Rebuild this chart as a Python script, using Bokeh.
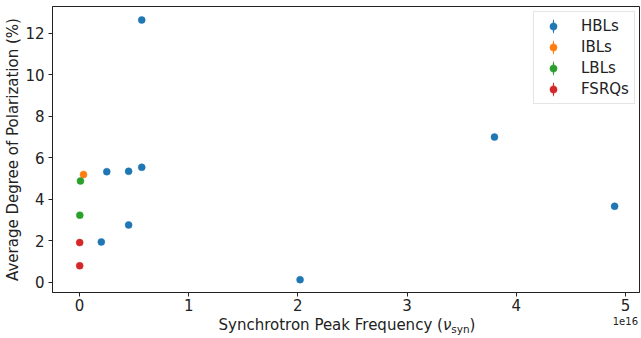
import numpy as np
from bokeh.plotting import figure
from bokeh.layouts import column
from bokeh.models import (ColumnDataSource, Legend, LegendItem, Div,
                          FixedTicker, CustomJSTickFormatter, Range1d)
from bokeh.embed import file_html
from bokeh.resources import INLINE

# ---- data (x in Hz, y in %) ----
categories = ["HBLs", "IBLs", "LBLs", "FSRQs"]
colors = ["#1f77b4", "#ff7f0e", "#2ca02c", "#d62728"]

hbl_nu = [0.57e16, 0.57e16, 0.45e16, 0.25e16, 0.45e16, 0.20e16, 2.02e16, 3.80e16, 4.90e16]
hbl_pol = [12.65, 5.54, 5.35, 5.33, 2.76, 1.94, 0.12, 7.00, 3.66]

ibl_nu = [0.037e16]
ibl_pol = [5.19]

lbl_nu = [0.009e16, 0.003e16]
lbl_pol = [4.88, 3.23]

fsrq_nu = [0.002e16, 0.002e16]
fsrq_pol = [1.91, 0.79]

x_ticks = [0, 1e16, 2e16, 3e16, 4e16, 5e16]
y_ticks = [0, 2, 4, 6, 8, 10, 12]

FONT = "DejaVu Sans"
FS = "15px"

p = figure(width=641, height=316, output_backend="svg", toolbar_location=None,
           x_range=Range1d(-0.247e16, 5.128e16), y_range=Range1d(-0.5, 13.3),
           min_border_left=52, min_border_right=2, min_border_top=6, min_border_bottom=24)
p.grid.visible = False
p.outline_line_color = "#222222"
p.outline_line_width = 1
p.background_fill_color = "white"
p.border_fill_color = "white"

for ax in (p.xaxis[0], p.yaxis[0]):
    ax.axis_line_color = "#222222"
    ax.major_tick_line_color = "#222222"
    ax.major_tick_out = 4
    ax.major_tick_in = 0
    ax.minor_tick_line_color = None
    ax.major_label_text_font = FONT
    ax.major_label_text_font_size = FS
    ax.major_label_text_color = "#222222"
    ax.axis_label_text_font = FONT
    ax.axis_label_text_font_size = FS
    ax.axis_label_text_font_style = "normal"
    ax.axis_label_text_color = "#222222"

p.xaxis.ticker = FixedTicker(ticks=x_ticks)
p.xaxis.formatter = CustomJSTickFormatter(code="return (tick/1e16).toFixed(0);")
p.xaxis.major_label_standoff = 2
p.yaxis.ticker = FixedTicker(ticks=y_ticks)
p.yaxis.major_label_standoff = 4
p.yaxis.axis_label = "Average Degree of Polarization (%)"
p.yaxis.axis_label_standoff = 0

series = [(hbl_nu, hbl_pol), (ibl_nu, ibl_pol), (lbl_nu, lbl_pol), (fsrq_nu, fsrq_pol)]
items = []
for (xs, ys), name, c in zip(series, categories, colors):
    src = ColumnDataSource(dict(x=xs, y=ys))
    # zero-length error bars: a thin upright ellipse hidden behind each marker;
    # in the legend it becomes the vertical error-bar stroke
    eb = p.ellipse(x="x", y="y", width=0.6, height=5, source=src,
                   width_units="screen", height_units="screen",
                   fill_color=c, line_color=None)
    r = p.scatter("x", "y", source=src, size=7, marker="circle",
                  fill_color=c, line_color=c, line_width=0.5)
    items.append(LegendItem(label=name, renderers=[eb, r]))

legend = Legend(items=items, location=(481, 188),
                label_text_font=FONT, label_text_font_size=FS,
                label_text_color="#222222",
                glyph_width=28, glyph_height=18, label_height=18,
                label_standoff=14, spacing=3, padding=5,
                border_line_color="#cccccc", border_line_width=1,
                background_fill_color="white", background_fill_alpha=0.8)
p.add_layout(legend, "center")

xlabel_html = (
    '<div style="position:relative;width:641px;height:22px;'
    'font-family:\'DejaVu Sans\';color:#222222;">'
    '<div style="position:absolute;left:52px;width:590px;top:0px;'
    'text-align:center;font-size:15px;line-height:18px;white-space:nowrap;">'
    'Synchrotron Peak Frequency (<i>\u03bd</i>'
    '<sub style="font-size:10.5px;vertical-align:-3px;">syn</sub>)</div>'
    '<div style="position:absolute;right:3px;top:0px;font-size:10px;'
    'line-height:12px;">1e16</div>'
    '</div>'
)
xlabel = Div(text=xlabel_html, width=641, height=22, margin=0)

layout = column(p, xlabel, spacing=0)
open("out.html", "w").write(file_html(layout, INLINE))
